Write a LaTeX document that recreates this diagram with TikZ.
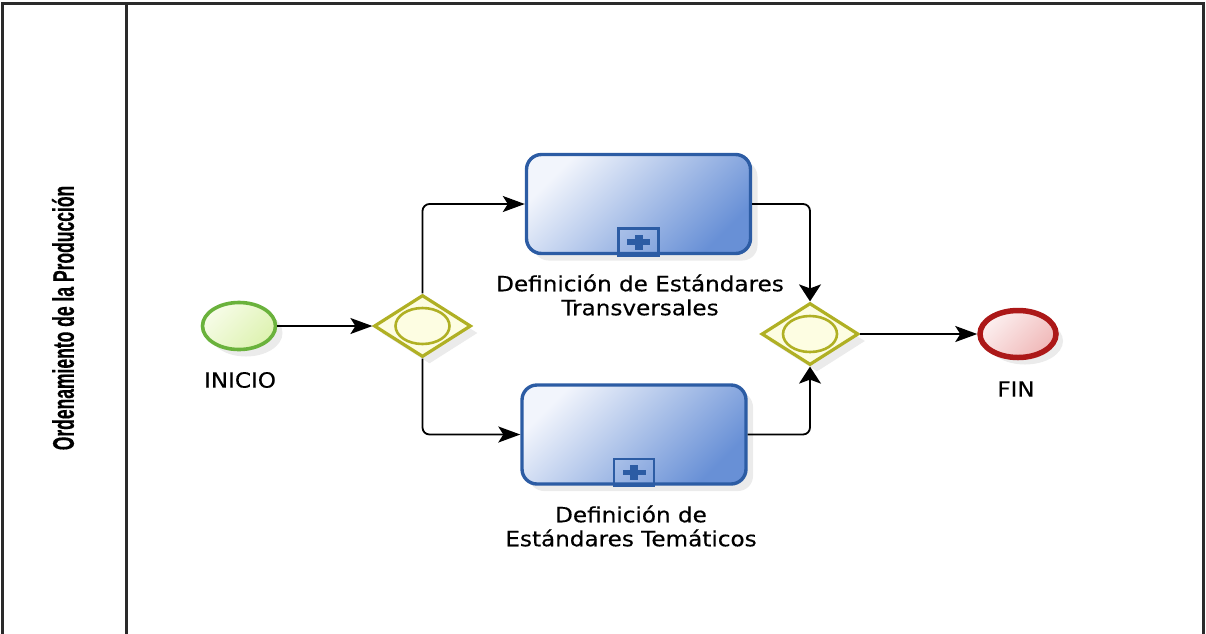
\documentclass[tikz,border=0pt]{standalone}
\usepackage{fontspec}
\setmainfont{DejaVu Sans}
\newfontfamily\lblfont[FakeBold=0.4]{DejaVu Sans}
\newfontfamily\lanefont[FakeBold=0.5]{Liberation Sans}
\usetikzlibrary{shapes.geometric,arrows.meta,shadows}
\definecolor{poolline}{HTML}{2A2A2A}
\definecolor{taskL}{HTML}{F2F5FC}
\definecolor{taskR}{HTML}{6890D6}
\definecolor{taskB}{HTML}{2C5CA4}
\definecolor{gwfill}{HTML}{FDFDE2}
\definecolor{gwline}{HTML}{B0B024}
\definecolor{stL}{HTML}{F7FCE8}
\definecolor{stR}{HTML}{DDF2B0}
\definecolor{stB}{HTML}{6AB23C}
\definecolor{enL}{HTML}{FCF0F0}
\definecolor{enR}{HTML}{F0B8B8}
\definecolor{enB}{HTML}{AC1818}
\tikzset{
  shd/.style={drop shadow={opacity=0.16,shadow xshift=7pt,shadow yshift=-7pt}},
  taskbox/.style={rectangle,rounded corners=15pt,minimum width=224pt,minimum height=99pt,
    draw=taskB,line width=3.4pt,left color=taskL,right color=taskR,shading angle=45,shd},
  gateway/.style={diamond,minimum width=97pt,minimum height=62pt,inner sep=0pt,
    draw=gwline,line width=3.2pt,fill=gwfill,shd},
  gwring/.style={ellipse,minimum width=54pt,minimum height=36pt,inner sep=0pt,draw=gwline,line width=2.6pt},
  startev/.style={ellipse,minimum width=73pt,minimum height=47pt,inner sep=0pt,draw=stB,line width=3.6pt,
    left color=stL,right color=stR,shading angle=45,shd},
  endev/.style={ellipse,minimum width=76pt,minimum height=47pt,inner sep=0pt,draw=enB,line width=5.5pt,
    left color=enL,right color=enR,shading angle=45,shd},
  marker/.style={rectangle,minimum width=40pt,minimum height=27pt,inner sep=0pt,draw=taskB,line width=2.8pt},
  flowh/.style={line width=1.8pt,rounded corners=7pt,-{Stealth[length=22pt,width=16pt,inset=5pt]}},
  flowv/.style={line width=1.8pt,rounded corners=7pt,-{Stealth[length=17pt,width=22pt,inset=4pt]}},
  lbl/.style={font=\lblfont\fontsize{21}{24}\selectfont,inner sep=0pt,align=center},
}
\newcommand{\wide}[1]{\scalebox{1.10}[1]{#1}}
\begin{document}
\begin{tikzpicture}[x=1pt,y=-1pt]
\useasboundingbox (0,0) rectangle (1206,633);
% pool and lane
\draw[poolline,line width=3pt] (2,650) -- (2,3) -- (1203,3) -- (1203,650);
\draw[poolline,line width=3pt] (126,3) -- (126,650);
\node[rotate=90,inner sep=0pt] (lane) at (63,318)
  {\scalebox{1}[1.7]{\lanefont\bfseries\fontsize{17.5}{20}\selectfont Ordenamiento de la Producción}};
% nodes
\node[startev] (start) at (239,326) {};
\node[gateway] (g1) at (422.5,326) {};
\node[gwring] (g1r) at (g1) {};
\node[taskbox] (t1) at (638.5,204) {};
\node[taskbox] (t2) at (634,434.5) {};
\node[gateway] (g2) at (810,334) {};
\node[gwring] (g2r) at (g2) {};
\node[endev] (end) at (1018,334) {};
% markers
\node[marker,anchor=south] (m1) at ([yshift=-1.7pt]t1.south) {};
\node[marker,anchor=south] (m2) at ([yshift=-1.7pt]t2.south) {};
\fill[taskB] ([xshift=-11.5pt,yshift=-2.8pt]m1.center) rectangle ([xshift=11.5pt,yshift=2.8pt]m1.center);
\fill[taskB] ([xshift=-4pt,yshift=-7.5pt]m1.center) rectangle ([xshift=4pt,yshift=7.5pt]m1.center);
\fill[taskB] ([xshift=-11.5pt,yshift=-2.8pt]m2.center) rectangle ([xshift=11.5pt,yshift=2.8pt]m2.center);
\fill[taskB] ([xshift=-4pt,yshift=-7.5pt]m2.center) rectangle ([xshift=4pt,yshift=7.5pt]m2.center);
% labels
\node[lbl] (lstart) at (240,380) {\wide{INICIO}};
\node[lbl] (lt1) at (640,295) {\wide{Definición de Estándares}\\\wide{Transversales}};
\node[lbl] (lt2) at (631,526) {\wide{Definición de}\\\wide{Estándares Temáticos}};
\node[lbl] (lend) at (1016,389) {\wide{FIN}};
% flows
\draw[flowh] (start.east) -- (g1.west);
\draw[flowh] (g1.north) |- (t1.west);
\draw[flowh] (g1.south) |- (t2.west);
\draw[flowv] (t1.east) -| (g2.north);
\draw[flowv] (t2.east) -| (g2.south);
\draw[flowh] (g2.east) -- (end.west);
\end{tikzpicture}
\end{document}
